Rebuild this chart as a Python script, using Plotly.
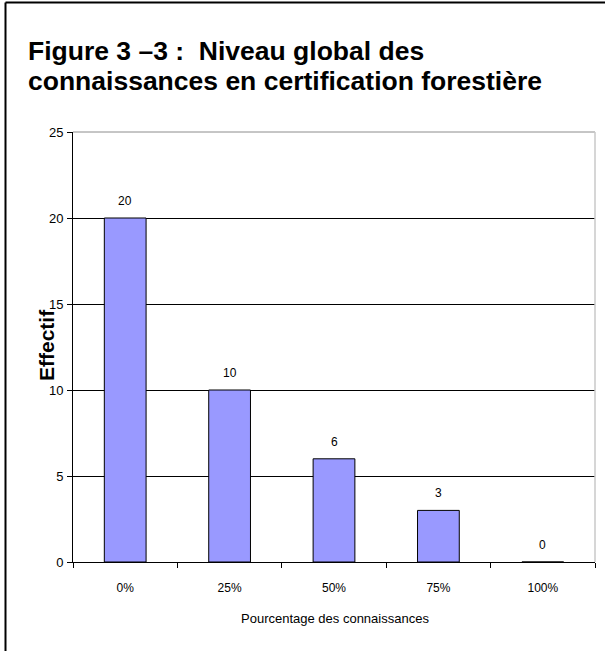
import plotly.graph_objects as go

categories = ["0%", "25%", "50%", "75%", "100%"]
effectif = [20, 10, 6, 3, 0]
title_line1 = "Figure 3 \u20133 :  Niveau global des"
title_line2 = "connaissances en certification foresti\u00e8re"
x_title = "Pourcentage des connaissances"
y_title = "Effectif"

W, H = 605, 651
L, R, T, B = 73, 10, 132, 89
pw, ph = W - L - R, H - T - B

def px(x):
    return (x - L) / pw

def py(y):
    return (H - B - y) / ph

FONT = "Liberation Sans, Arial, sans-serif"

fig = go.Figure()
fig.add_trace(go.Bar(
    x=categories, y=effectif,
    marker=dict(color="#9999FF", line=dict(color="black", width=1)),
    width=0.4,
    hoverinfo="x+y",
))

annotations = []
for c, v in zip(categories, effectif):
    annotations.append(dict(x=c, y=v, xref="x", yref="y", text=str(v), showarrow=False,
                            yshift=17, font=dict(family=FONT, size=12, color="black")))

annotations += [
    dict(x=px(26), y=py(51), xref="paper", yref="paper", xanchor="left", yanchor="middle",
         text="<b>%s</b>" % title_line1, showarrow=False,
         font=dict(family=FONT, size=26.5, color="black")),
    dict(x=px(26), y=py(81), xref="paper", yref="paper", xanchor="left", yanchor="middle",
         text="<b>%s</b>" % title_line2, showarrow=False,
         font=dict(family=FONT, size=26.5, color="black")),
    dict(x=px(46), y=py(345), xref="paper", yref="paper", xanchor="center", yanchor="middle",
         text="<b>%s</b>" % y_title, textangle=-90, showarrow=False,
         font=dict(family=FONT, size=21, color="black")),
    dict(x=px(335), y=py(618), xref="paper", yref="paper", xanchor="center", yanchor="middle",
         text=x_title, showarrow=False,
         font=dict(family=FONT, size=13, color="black")),
]

shapes = [
    # plot area top and right border
    dict(type="line", xref="paper", yref="paper", x0=0, x1=1, y0=1, y1=1,
         line=dict(color="#8C8C8C", width=1), layer="above"),
    dict(type="line", xref="paper", yref="paper", x0=1, x1=1, y0=0, y1=1,
         line=dict(color="#C8C8C8", width=1.5), layer="above"),
    # outer frame (left and top visible)
    dict(type="line", xref="paper", yref="paper", x0=px(5.5), x1=px(5.5), y0=py(700), y1=py(2.5),
         line=dict(color="black", width=2)),
    dict(type="line", xref="paper", yref="paper", x0=px(5.5), x1=px(700), y0=py(2.5), y1=py(2.5),
         line=dict(color="black", width=2)),
]

fig.update_layout(
    width=W, height=H,
    margin=dict(l=L, r=R, t=T, b=B, pad=0),
    paper_bgcolor="white", plot_bgcolor="white",
    showlegend=False,
    annotations=annotations,
    shapes=shapes,
    font=dict(family=FONT, size=12, color="black"),
    xaxis=dict(type="category", showline=True, linecolor="black", linewidth=1,
               ticks="outside", tickson="boundaries", ticklen=5, tickcolor="black",
               showgrid=False, tickfont=dict(size=12), ticklabelstandoff=15),
    yaxis=dict(range=[0, 25], tickvals=[0, 5, 10, 15, 20, 25], showline=True, linecolor="black",
               linewidth=1, ticks="outside", ticklen=5, tickcolor="black",
               showgrid=True, gridcolor="black", gridwidth=1, zeroline=False,
               tickfont=dict(size=13), ticklabelstandoff=1),
)

fig.write_html("out.html", config={"displayModeBar": False},
               post_script="document.body.style.margin='0px';document.body.style.overflow='hidden';")
